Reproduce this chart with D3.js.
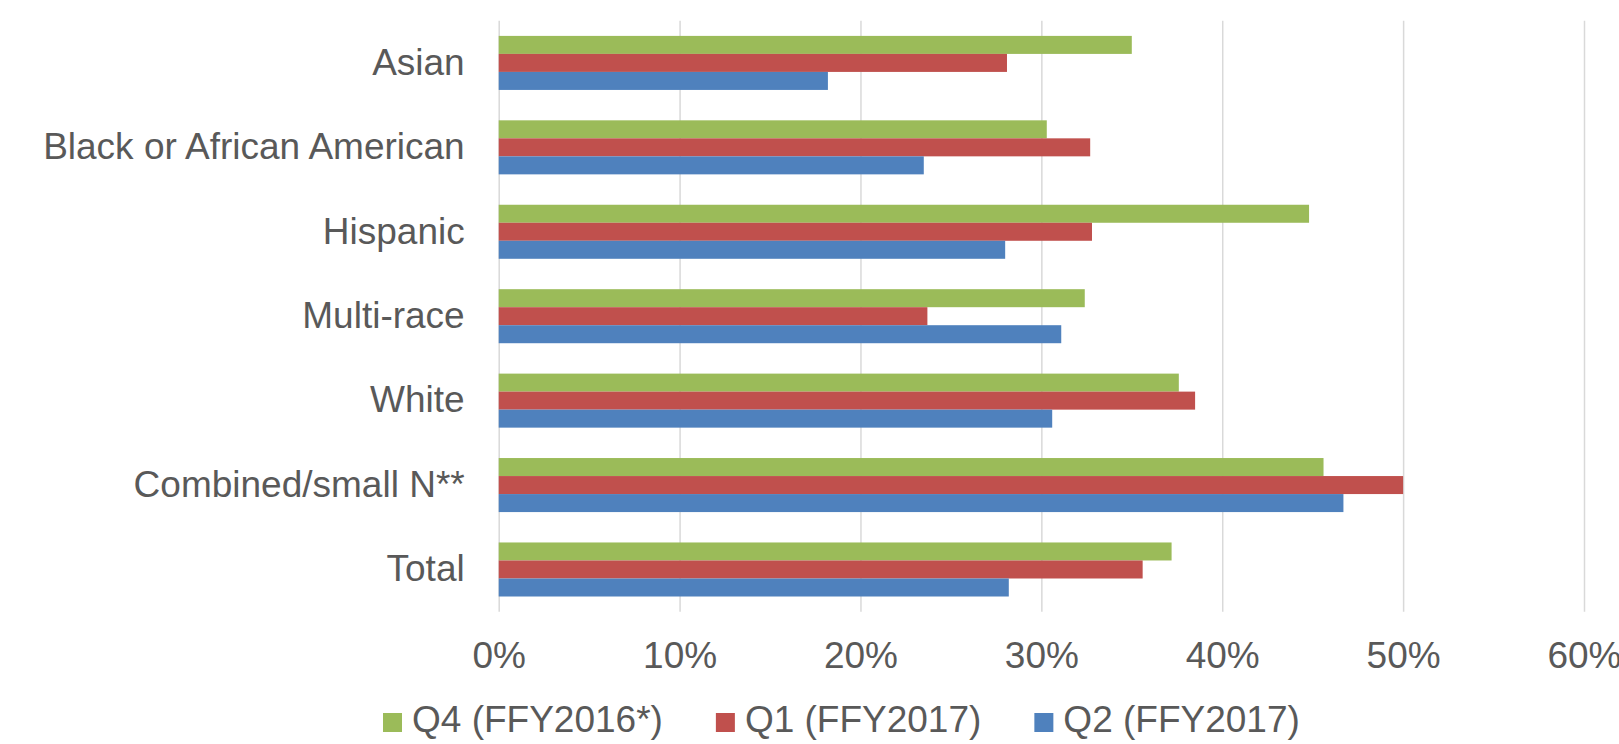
<!DOCTYPE html>
<html>
<head>
<meta charset="utf-8">
<script src="https://cdn.jsdelivr.net/npm/d3@7"></script>
<title>bars</title>
<style>
body { margin: 0; background: #fff; }
svg text { font-family: "Liberation Sans", Arial, sans-serif; fill: #595959; }
g.grid line { stroke: #d9d9d9; stroke-width: 1.5px; }
g.grid path, g.cats path { display: none; }
</style>
</head>
<body>
<svg class="chart"></svg>
<script>
// data
var categories = ["Asian", "Black or African American", "Hispanic", "Multi-race", "White", "Combined/small N**", "Total"]
var seriesNames = ["Q4 (FFY2016*)", "Q1 (FFY2017)", "Q2 (FFY2017)"]
var q4_2016 = [0.350, 0.303, 0.448, 0.324, 0.376, 0.456, 0.372]
var q1_2017 = [0.281, 0.327, 0.328, 0.237, 0.385, 0.500, 0.356]
var q2_2017 = [0.182, 0.235, 0.280, 0.311, 0.306, 0.467, 0.282]
var xTicks = [0, 0.1, 0.2, 0.3, 0.4, 0.5, 0.6]
var colors = ["#9BBB59", "#C0504D", "#4F81BD"]

var w = 1619, h = 744
var plotLeft = 498.7, plotRight = 1584, plotTop = 20.7, plotBottom = 611.7
var fontSize = '37px'
var svg = d3.select('.chart').attr('width', w).attr('height', h)

var allSeries = [q4_2016, q1_2017, q2_2017]
var rows = categories.map(function (c, i) {
    return { cat: c, vals: allSeries.map(function (s) { return s[i] }) }
})

var xScale = d3.scaleLinear().domain([0, 0.6]).range([plotLeft, plotRight])
var yScale = d3.scaleBand().domain(categories).range([plotTop, plotBottom]).paddingInner(0.36).paddingOuter(0.18)
var inner = d3.scaleBand().domain(d3.range(seriesNames.length)).range([0, yScale.bandwidth()])

// grid + x tick labels
var xAxis = d3.axisBottom(xScale).tickValues(xTicks).tickFormat(d3.format('.0%'))
    .tickSizeInner(-(plotBottom - plotTop)).tickSizeOuter(0).tickPadding(30)
svg.append('g').classed('grid', true)
    .attr('transform', 'translate(0,' + plotBottom + ')')
    .call(xAxis)
    .selectAll('text').style('font-size', fontSize).attr('fill', '#595959')

// bars
var groups = svg.append('g').selectAll('g').data(rows).enter().append('g')
    .attr('transform', function (d) { return 'translate(0,' + yScale(d.cat) + ')' })
groups.selectAll('rect').data(function (d) { return d.vals }).enter().append('rect')
    .attr('x', xScale(0))
    .attr('y', function (d, i) { return inner(i) })
    .attr('width', function (d) { return xScale(d) - xScale(0) })
    .attr('height', inner.bandwidth())
    .style('fill', function (d, i) { return colors[i] })

// category labels
var yAxis = d3.axisLeft(yScale).tickSize(0).tickPadding(34)
svg.append('g').classed('cats', true)
    .attr('transform', 'translate(' + plotLeft + ',0)')
    .call(yAxis)
    .selectAll('text').style('font-size', fontSize).attr('fill', '#595959')

// legend
var legend = svg.append('g')
var lx = 383, baseline = 731.5
seriesNames.forEach(function (name, i) {
    legend.append('rect').attr('x', lx).attr('y', 713).attr('width', 19).attr('height', 19)
        .style('fill', colors[i])
    var t = legend.append('text').attr('x', lx + 29).attr('y', baseline)
        .style('font-size', fontSize).text(name)
    lx = lx + 29 + t.node().getComputedTextLength() + 53
})
</script>
</body>
</html>
